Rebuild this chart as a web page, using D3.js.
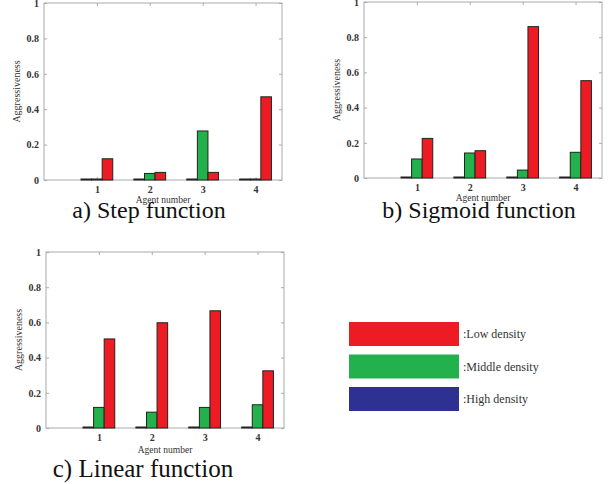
<!DOCTYPE html>
<html>
<head>
<meta charset="utf-8">
<script src="https://cdn.jsdelivr.net/npm/d3@7"></script>
<style>
  body { margin: 0; background: #fff; }
  svg { display: block; }
</style>
</head>
<body>
<div id="chart"></div>
<script>
// agents on the x axis
const agents = [1, 2, 3, 4];
const yTicks = [0, 0.2, 0.4, 0.6, 0.8, 1];

// a) Step function
const stepHigh = [0, 0, 0, 0];
const stepMiddle = [0.002, 0.037, 0.277, 0.005];
const stepLow = [0.12, 0.043, 0.043, 0.47];

// b) Sigmoid function
const sigmoidHigh = [0, 0, 0, 0];
const sigmoidMiddle = [0.108, 0.142, 0.045, 0.146];
const sigmoidLow = [0.225, 0.155, 0.86, 0.553];

// c) Linear function
const linearHigh = [0, 0, 0, 0];
const linearMiddle = [0.117, 0.09, 0.117, 0.132];
const linearLow = [0.506, 0.598, 0.666, 0.325];

const densityNames = ['Low density', 'Middle density', 'High density'];
const densityColors = ['#ed1c24', '#22b14c', '#2e3192'];

const W = 608, H = 484;
const svg = d3.select('#chart').append('svg')
  .attr('width', W)
  .attr('height', H);

const serif = '"Liberation Serif", "Times New Roman", serif';

// one panel per activation function
const panels = [
  { caption: 'a) Step function', high: stepHigh, middle: stepMiddle, low: stepLow,
    x: 44, y: 3, w: 238, h: 177, cx: 149, cy: 218, fs: 24, lx: 23 },
  { caption: 'b) Sigmoid function', high: sigmoidHigh, middle: sigmoidMiddle, low: sigmoidLow,
    x: 364, y: 2, w: 238, h: 176, cx: 479, cy: 218, fs: 24, lx: 23 },
  { caption: 'c) Linear function', high: linearHigh, middle: linearMiddle, low: linearLow,
    x: 46, y: 252, w: 238, h: 176, cx: 143, cy: 477, fs: 25, lx: 25 }
];

function drawPanel(p) {
  const g = svg.append('g').attr('transform', `translate(${p.x},${p.y})`);

  const x = d3.scaleLinear().domain([0, 4.5]).range([0, p.w]);
  const y = d3.scaleLinear().domain([0, 1]).range([p.h, 0]);

  // frame
  g.append('rect')
    .attr('width', p.w).attr('height', p.h)
    .attr('fill', 'none').attr('stroke', '#aaa').attr('stroke-width', 1);

  // axes (ticks pointing inward, labels outside)
  const yAxis = g.append('g').call(d3.axisLeft(y).tickValues(yTicks).tickSize(-3)
    .tickFormat(d => d === 0 || d === 1 ? d : d.toFixed(1)).tickPadding(5));
  const yAxisR = g.append('g').attr('transform', `translate(${p.w},0)`)
    .call(d3.axisRight(y).tickValues(yTicks).tickSize(-3).tickFormat(''));
  const xAxis = g.append('g').attr('transform', `translate(0,${p.h})`)
    .call(d3.axisBottom(x).tickValues(agents).tickSize(-3).tickPadding(6)
      .tickFormat(d3.format('d')));
  const xAxisT = g.append('g')
    .call(d3.axisTop(x).tickValues(agents).tickSize(-3).tickFormat(''));

  [yAxis, yAxisR, xAxis, xAxisT].forEach(a => {
    a.select('.domain').remove();
    a.selectAll('line').attr('stroke', '#aaa');
    a.selectAll('text')
      .attr('font-family', serif)
      .attr('font-size', 10)
      .attr('font-weight', 'bold')
      .attr('fill', '#333');
  });

  // bars: high, middle, low around each agent
  const series = [
    { values: p.high, color: densityColors[2], off: -0.2 },
    { values: p.middle, color: densityColors[1], off: 0 },
    { values: p.low, color: densityColors[0], off: 0.2 }
  ];
  const bw = x(0.2) - x(0);
  series.forEach(s => {
    g.selectAll(null)
      .data(s.values)
      .enter()
      .append('rect')
      .attr('x', (d, i) => x(agents[i] + s.off) - bw / 2)
      .attr('y', d => Math.min(y(d), p.h - 1))
      .attr('width', bw)
      .attr('height', d => Math.max(y(0) - y(d), 1))
      .attr('fill', s.color)
      .attr('stroke', '#222')
      .attr('stroke-width', 1);
  });

  // axis titles
  g.append('text')
    .attr('x', p.w / 2).attr('y', p.h + p.lx)
    .attr('text-anchor', 'middle')
    .attr('font-family', serif).attr('font-size', 9.5).attr('fill', '#333')
    .text('Agent number');
  g.append('text')
    .attr('transform', `translate(-24,${p.h / 2}) rotate(-90)`)
    .attr('text-anchor', 'middle')
    .attr('font-family', serif).attr('font-size', 10).attr('fill', '#333')
    .text('Aggressiveness');

  // caption
  svg.append('text')
    .attr('x', p.cx).attr('y', p.cy)
    .attr('text-anchor', 'middle')
    .attr('font-family', serif).attr('font-size', p.fs).attr('fill', '#111')
    .text(p.caption);
}

panels.forEach(drawPanel);

// legend
const legend = svg.append('g').attr('transform', 'translate(349,322)');
const items = legend.selectAll('g')
  .data(densityNames)
  .enter()
  .append('g')
  .attr('transform', (d, i) => `translate(0,${i * 32.5})`);
items.append('rect')
  .attr('width', 110).attr('height', 24)
  .attr('fill', (d, i) => densityColors[i]);
items.append('text')
  .attr('x', 114).attr('y', 12).attr('dy', '0.35em')
  .attr('font-family', serif).attr('font-size', 12).attr('fill', '#333')
  .text(d => ':' + d);
</script>
</body>
</html>
